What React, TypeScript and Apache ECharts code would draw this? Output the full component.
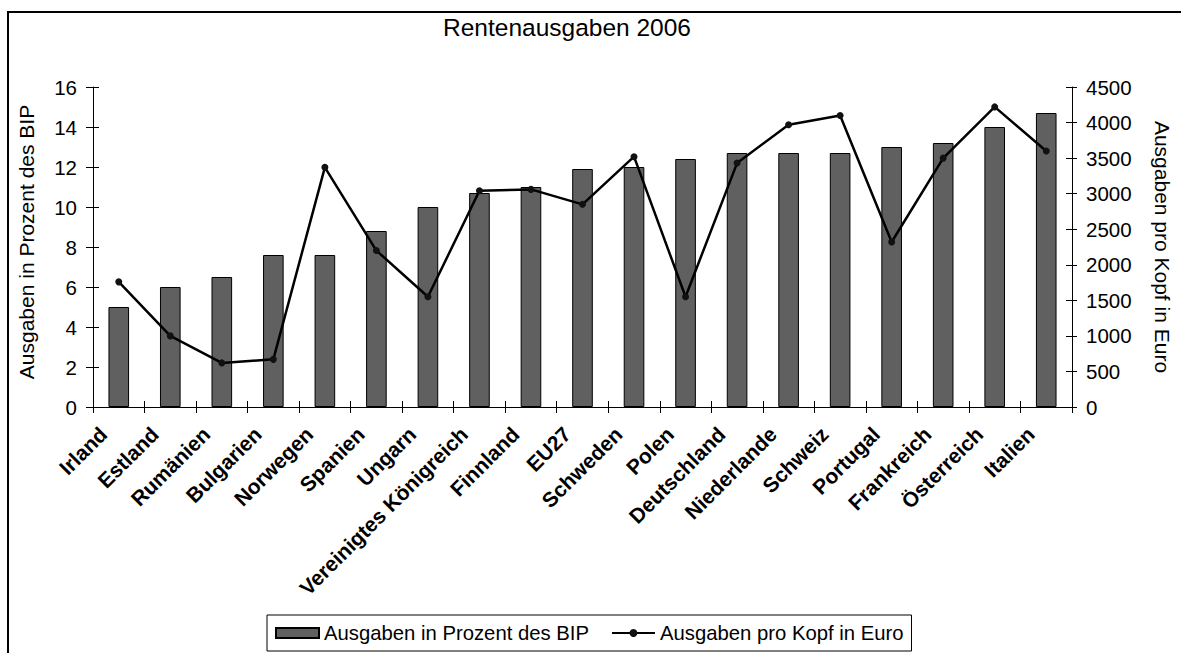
import React, { useEffect, useRef } from "react";
import * as echarts from "echarts";

const categories = [
  "Irland", "Estland", "Rumänien", "Bulgarien", "Norwegen", "Spanien", "Ungarn",
  "Vereinigtes Königreich", "Finnland", "EU27", "Schweden", "Polen", "Deutschland",
  "Niederlande", "Schweiz", "Portugal", "Frankreich", "Österreich", "Italien",
];
const bipShare = [5.0, 6.0, 6.5, 7.6, 7.6, 8.8, 10.0, 10.7, 11.0, 11.9, 12.0, 12.4, 12.7, 12.7, 12.7, 13.0, 13.2, 14.0, 14.7];
const perCapita = [1760, 1000, 620, 670, 3370, 2200, 1550, 3040, 3060, 2850, 3520, 1550, 3430, 3970, 4100, 2320, 3500, 4220, 3600];

const barName = "Ausgaben in Prozent des BIP";
const lineName = "Ausgaben pro Kopf in Euro";
const titleText = "Rentenausgaben 2006";

const FONT = "'Liberation Sans', Arial, sans-serif";

export default function App() {
  const ref = useRef<HTMLDivElement>(null);
  useEffect(() => {
    if (!ref.current) return;
    const chart = echarts.init(ref.current, undefined, { renderer: "svg" });
    const black = "#000";
    const tickStyle = { color: black, width: 1 };
    chart.setOption({
      animation: false,
      backgroundColor: "#fff",
      textStyle: { fontFamily: FONT },
      title: {
        text: titleText,
        left: 443,
        top: 15,
        padding: 0,
        textStyle: { fontSize: 24.5, fontWeight: "normal", color: black, fontFamily: FONT },
      },
      graphic: [
        {
          type: "rect",
          shape: { x: 8, y: 12, width: 1300, height: 800 },
          style: { fill: "none", stroke: black, lineWidth: 2 },
          silent: true,
          z: 100,
        },
      ],
      legend: {
        left: 267,
        top: 615,
        padding: [8, 8, 8, 8],
        itemGap: 22,
        itemWidth: 43,
        itemHeight: 10,
        borderColor: black,
        borderWidth: 1,
        textStyle: { fontSize: 20.3, color: black, fontFamily: FONT },
        data: [{ name: barName, icon: "rect" }, { name: lineName }],
      },
      grid: { left: 93, right: 103, top: 87, bottom: 246, containLabel: false },
      xAxis: [
        {
          type: "category",
          data: categories,
          position: "bottom",
          axisLine: { show: true, lineStyle: { color: black, width: 1 } },
          axisTick: { show: true, inside: false, length: 6, lineStyle: tickStyle, interval: 0 },
          axisLabel: {
            interval: 0,
            rotate: 45,
            margin: 8,
            fontSize: 21,
            fontWeight: "bold",
            color: black,
            fontFamily: FONT,
            padding: [0, 22, 0, 0],
          },
          splitLine: { show: false },
        },
        {
          type: "category",
          data: categories,
          position: "bottom",
          axisLine: { show: false },
          axisTick: { show: true, inside: true, length: 6, lineStyle: tickStyle, interval: 0 },
          axisLabel: { show: false },
          splitLine: { show: false },
        },
      ],
      yAxis: [
        {
          type: "value",
          position: "left",
          min: 0,
          max: 16,
          interval: 2,
          name: barName,
          nameLocation: "middle",
          nameGap: 56,
          nameRotate: 90,
          nameTextStyle: { fontSize: 21, color: black, fontFamily: FONT, padding: [0, 0, 0, 10] },
          axisLine: { show: true, lineStyle: { color: black, width: 1 } },
          axisTick: { show: true, inside: false, length: 7, lineStyle: tickStyle },
          axisLabel: { margin: 16, fontSize: 20.5, color: black, fontFamily: FONT },
          splitLine: { show: false },
        },
        {
          type: "value",
          position: "right",
          min: 0,
          max: 4500,
          interval: 500,
          name: lineName,
          nameLocation: "middle",
          nameGap: 80,
          nameRotate: -90,
          nameTextStyle: { fontSize: 21, color: black, fontFamily: FONT },
          axisLine: { show: true, lineStyle: { color: black, width: 1 } },
          axisTick: { show: true, inside: false, length: 5, lineStyle: tickStyle },
          axisLabel: {
            margin: 14,
            fontSize: 20.5,
            color: black,
            fontFamily: FONT,
            formatter: (v: number) => String(v),
          },
          splitLine: { show: false },
        },
        {
          type: "value",
          position: "left",
          min: 0,
          max: 16,
          interval: 2,
          axisLine: { show: false },
          axisTick: { show: true, inside: true, length: 6, lineStyle: tickStyle },
          axisLabel: { show: false },
          splitLine: { show: false },
        },
        {
          type: "value",
          position: "right",
          min: 0,
          max: 4500,
          interval: 500,
          axisLine: { show: false },
          axisTick: { show: true, inside: true, length: 6, lineStyle: tickStyle },
          axisLabel: { show: false },
          splitLine: { show: false },
        },
      ],
      series: [
        {
          name: barName,
          type: "bar",
          xAxisIndex: 0,
          yAxisIndex: 0,
          data: bipShare,
          barWidth: "40%",
          itemStyle: { color: "#606060", borderColor: black, borderWidth: 1 },
        },
        {
          name: lineName,
          type: "line",
          xAxisIndex: 0,
          yAxisIndex: 1,
          data: perCapita,
          symbol: "circle",
          symbolSize: 7,
          lineStyle: { color: black, width: 2.5 },
          itemStyle: { color: "#111" },
          z: 5,
        },
      ],
    });
    return () => chart.dispose();
  }, []);
  return (
    <div
      ref={ref}
      style={{ position: "fixed", left: 0, top: 0, width: 1181, height: 653 }}
    />
  );
}
